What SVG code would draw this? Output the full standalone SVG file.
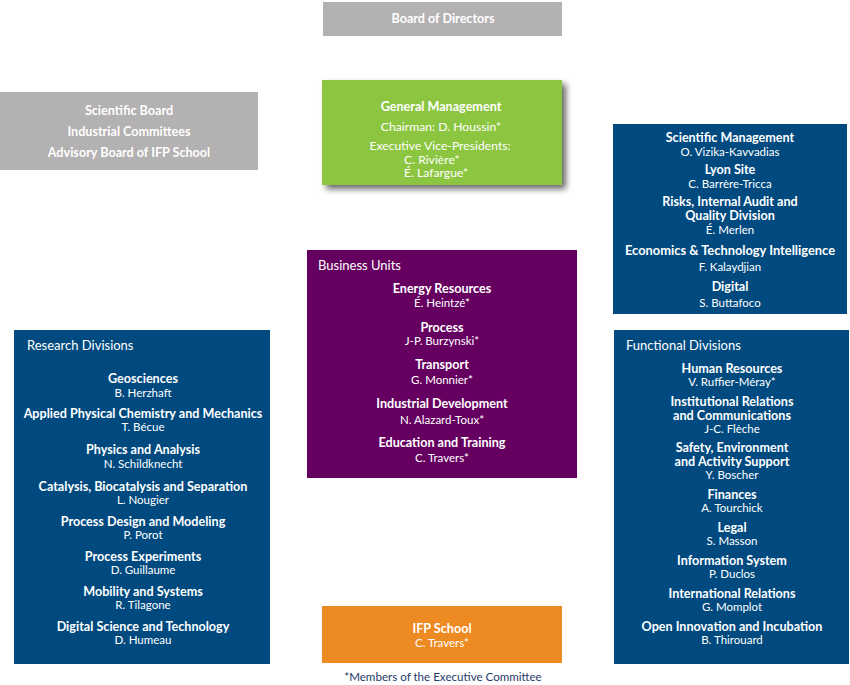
<svg xmlns="http://www.w3.org/2000/svg" width="850" height="685" viewBox="0 0 850 685">
<defs>
<filter id="sh" x="-10%" y="-10%" width="130%" height="140%">
<feDropShadow dx="4" dy="4" stdDeviation="3" flood-color="#000" flood-opacity="0.6"/>
</filter>
<style>
text{font-family:Lato,"Open Sans","Liberation Sans",sans-serif;fill:#fff;text-anchor:middle}
.b{font-weight:bold;font-size:12.6px}
.n{font-size:11.5px}
.r{font-size:12.2px}
.h{font-size:13px;text-anchor:start}
.l{text-anchor:start}
.foot{fill:#1f3a6b;font-size:11.6px}
</style>
</defs>
<rect width="850" height="685" fill="#fff"/>
<g id="connectors"></g>
<g id="board">
<rect x="323" y="2" width="239" height="34" fill="#b3b1b1"/>
<text class="b" x="443" y="23">Board of Directors</text>
</g>
<g id="general-management">
<rect x="322" y="80" width="240" height="105" fill="#8cc63f" filter="url(#sh)"/>
<text class="b" x="441" y="111">General Management</text>
<text class="r" x="441" y="131">Chairman:  D. Houssin*</text>
<text class="r" x="440" y="149.5">Executive Vice-Presidents:</text>
<text class="r l" x="404" y="163.5">C. Rivière*</text>
<text class="r l" x="404" y="177">É. Lafargue*</text>
</g>
<g id="boards">
<rect x="0" y="92" width="258" height="78" fill="#b3b1b1"/>
<text class="b" x="129" y="115">Scientific Board</text>
<text class="b" x="129" y="136">Industrial Committees</text>
<text class="b" x="129" y="157">Advisory Board of IFP School</text>
</g>
<g id="management">
<rect x="613" y="124" width="234" height="190" fill="#004a7f"/>
<text class="b" x="730" y="142">Scientific Management</text>
<text class="n" x="730" y="156">O. Vizika-Kavvadias</text>
<text class="b" x="730" y="174">Lyon Site</text>
<text class="n" x="730" y="188">C. Barrère-Tricca</text>
<text class="b" x="730" y="206">Risks, Internal Audit and</text>
<text class="b" x="730" y="219.5">Quality Division</text>
<text class="n" x="730" y="234">É. Merlen</text>
<text class="b" x="730" y="255" textLength="210" lengthAdjust="spacingAndGlyphs">Economics &amp; Technology Intelligence</text>
<text class="n" x="730" y="271">F. Kalaydjian</text>
<text class="b" x="730" y="291">Digital</text>
<text class="n" x="730" y="307">S. Buttafoco</text>
</g>
<g id="business-units">
<rect x="307" y="250" width="270" height="228" fill="#650060"/>
<text class="h" x="318" y="270">Business Units</text>
<text class="b" x="442" y="293">Energy Resources</text>
<text class="n" x="442" y="307">É. Heintzé*</text>
<text class="b" x="442" y="332">Process</text>
<text class="n" x="442" y="345">J-P. Burzynski*</text>
<text class="b" x="442" y="369">Transport</text>
<text class="n" x="442" y="384">G. Monnier*</text>
<text class="b" x="442" y="408">Industrial Development</text>
<text class="n" x="442" y="424">N. Alazard-Toux*</text>
<text class="b" x="442" y="447">Education and Training</text>
<text class="n" x="442" y="462">C. Travers*</text>
</g>
<g id="research-divisions">
<rect x="14" y="330" width="256" height="334" fill="#004a7f"/>
<text class="h" x="27" y="350">Research Divisions</text>
<text class="b" x="143" y="383">Geosciences</text>
<text class="n" x="143" y="397">B. Herzhaft</text>
<text class="b" x="143" y="418">Applied Physical Chemistry and Mechanics</text>
<text class="n" x="143" y="431">T. Bécue</text>
<text class="b" x="143" y="454">Physics and Analysis</text>
<text class="n" x="143" y="468">N. Schildknecht</text>
<text class="b" x="143" y="491">Catalysis, Biocatalysis and Separation</text>
<text class="n" x="143" y="504">L. Nougier</text>
<text class="b" x="143" y="526">Process Design and Modeling</text>
<text class="n" x="143" y="539">P. Porot</text>
<text class="b" x="143" y="561">Process Experiments</text>
<text class="n" x="143" y="574">D. Guillaume</text>
<text class="b" x="143" y="596">Mobility and Systems</text>
<text class="n" x="143" y="609">R. Tilagone</text>
<text class="b" x="143" y="631">Digital Science and Technology</text>
<text class="n" x="143" y="644">D. Humeau</text>
</g>
<g id="functional-divisions">
<rect x="614" y="330" width="235" height="334" fill="#004a7f"/>
<text class="h" x="626" y="350">Functional Divisions</text>
<text class="b" x="732" y="373">Human Resources</text>
<text class="n" x="732" y="386">V. Ruffier-Méray*</text>
<text class="b" x="732" y="406">Institutional Relations</text>
<text class="b" x="732" y="419.5">and Communications</text>
<text class="n" x="732" y="432.5">J-C. Flèche</text>
<text class="b" x="732" y="452">Safety, Environment</text>
<text class="b" x="732" y="465.5">and Activity Support</text>
<text class="n" x="732" y="479">Y. Boscher</text>
<text class="b" x="732" y="499">Finances</text>
<text class="n" x="732" y="512">A. Tourchick</text>
<text class="b" x="732" y="532">Legal</text>
<text class="n" x="732" y="545">S. Masson</text>
<text class="b" x="732" y="565">Information System</text>
<text class="n" x="732" y="578">P. Duclos</text>
<text class="b" x="732" y="598">International Relations</text>
<text class="n" x="732" y="611">G. Momplot</text>
<text class="b" x="732" y="631">Open Innovation and Incubation</text>
<text class="n" x="732" y="644">B. Thirouard</text>
</g>
<g id="ifp-school">
<rect x="322" y="606" width="240" height="57" fill="#ee8a22"/>
<text class="b" x="442" y="633">IFP School</text>
<text class="n" x="442" y="647">C. Travers*</text>
</g>
<g id="footnote">
<text class="foot" x="443" y="681">*Members of the Executive Committee</text>
</g>
</svg>
